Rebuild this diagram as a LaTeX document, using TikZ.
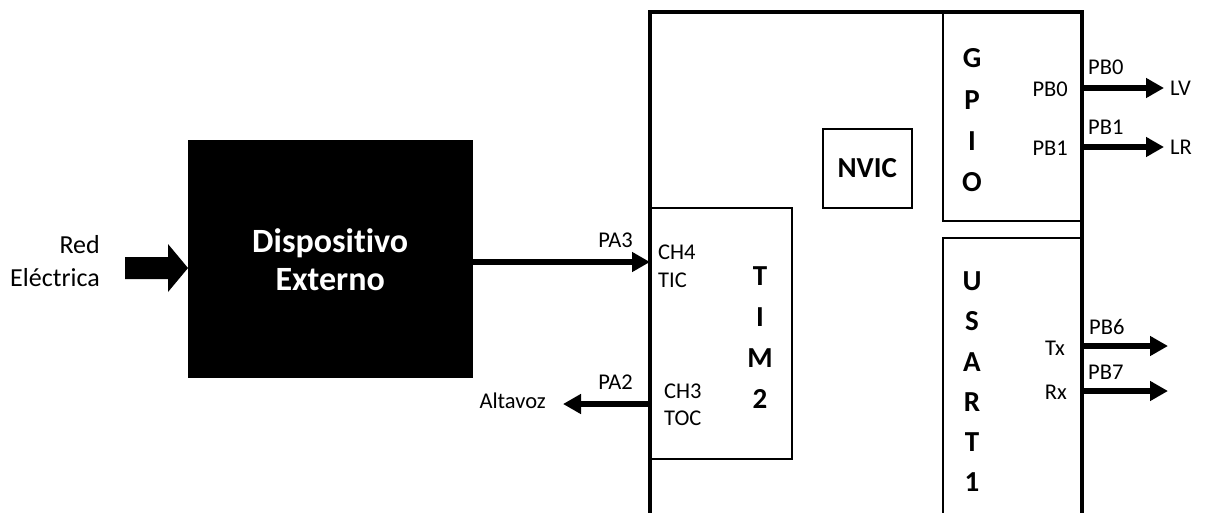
\documentclass[tikz,border=0pt]{standalone}
\usepackage{fontspec}
\setmainfont{Carlito}[Ligatures=NoCommon]
\usetikzlibrary{arrows.meta,calc}
\tikzset{
  lbl/.style={font=\fontsize{22.5}{25}\selectfont, inner sep=0pt},
  biglbl/.style={font=\fontsize{26}{33}\selectfont, inner sep=0pt, align=right},
  boldlbl/.style={font=\fontsize{29}{31}\selectfont\bfseries, inner sep=0pt},
  subbox/.style={draw, line width=1.5pt, inner sep=0pt, anchor=north west},
  sig/.style={line width=6pt, -{Triangle[length=18pt,width=19pt]}},
  mainline/.style={line width=4pt},
}
\begin{document}
\begin{tikzpicture}[x=1pt,y=-1pt]
\useasboundingbox (0,0) rectangle (1211,512);
% main MCU outline (open at bottom)
\coordinate (mbl) at (650,514);
\coordinate (mtl) at (650,12);
\coordinate (mtr) at (1082,12);
\coordinate (mbr) at (1082,514);
% sub blocks
\node[subbox, minimum width=141pt, minimum height=251pt] (tim) at (650,207) {};
\node[subbox, minimum width=89pt, minimum height=79pt] (nvic) at (822,128) {};
\node[boldlbl] at (nvic.center) {NVIC};
\node[subbox, minimum width=140pt, minimum height=208pt] (gpio) at (942,12) {};
\node[subbox, minimum width=140pt, minimum height=290pt] (usart) at (942,237) {};
\draw[mainline] (mbl) -- (mtl) -- (mtr) -- (mbr);
% external device
\node[fill=black, draw=black, minimum width=284pt, minimum height=237pt, anchor=north west, inner sep=0pt] (dev) at (188,140) {};
\node[font=\fontsize{34}{38}\selectfont\bfseries, text=white, align=center, inner sep=0pt] at ($(dev.center)+(0,1)$) {Dispositivo\\Externo};
% Red electrica fat arrow
\fill (125,257) -- (168,257) -- (168,244) -- (dev.west |- 0,268) -- (168,292) -- (168,279) -- (125,279) -- cycle;
\node[biglbl, anchor=east] (red) at (100,261) {Red\\Eléctrica};
% TIM2
\coordinate (pa3) at (tim.west |- 0,262);
\coordinate (pa3s) at (dev.east |- 0,262);
\draw[sig] (pa3s) -- (pa3);
\node[lbl, anchor=east] at (633,240) {PA3};
\node[lbl, anchor=west] at (658,252) {CH4};
\node[lbl, anchor=west] at (658,280) {TIC};
\foreach \t/\yy in {T/276,I/317,M/358,2/399}
  \node[boldlbl] at (760,\yy) {\t};
\coordinate (pa2s) at (tim.west |- 0,404);
\coordinate (alt) at (563,404);
\node[lbl, anchor=east] (altavoz) at (546,401) {Altavoz};
\draw[sig] (pa2s) -- (alt);
\node[lbl, anchor=east] at (633,382) {PA2};
\node[lbl, anchor=west] at (664,391) {CH3};
\node[lbl, anchor=west] at (664,418) {TOC};
% GPIO
\foreach \t/\yy in {G/58,P/100,I/141,O/182}
  \node[boldlbl] at (972,\yy) {\t};
\node[lbl, anchor=east] at (1068,89) {PB0};
\node[lbl, anchor=east] at (1068,148) {PB1};
\coordinate (pb0s) at (gpio.east |- 0,88);
\coordinate (pb0e) at (1164,88);
\coordinate (pb1s) at (gpio.east |- 0,147);
\coordinate (pb1e) at (1164,147);
\draw[sig] (pb0s) -- (pb0e);
\draw[sig] (pb1s) -- (pb1e);
\node[lbl, anchor=west] at (1088,67) {PB0};
\node[lbl, anchor=west] at (1088,127) {PB1};
\node[lbl, anchor=west] (lv) at (1170,88) {LV};
\node[lbl, anchor=west] (lr) at (1170,147) {LR};
% USART1
\foreach \t/\yy in {U/281,S/321,A/362,R/402,T/442,1/482}
  \node[boldlbl] at (972,\yy) {\t};
\node[lbl, anchor=east] at (1065,348) {Tx};
\node[lbl, anchor=east] at (1067,392) {Rx};
\coordinate (pb6s) at (usart.east |- 0,346);
\coordinate (pb6e) at (1168,346);
\coordinate (pb7s) at (usart.east |- 0,391);
\coordinate (pb7e) at (1168,391);
\draw[sig] (pb6s) -- (pb6e);
\draw[sig] (pb7s) -- (pb7e);
\node[lbl, anchor=west] at (1089,327) {PB6};
\node[lbl, anchor=west] at (1088,372) {PB7};
\end{tikzpicture}
\end{document}
